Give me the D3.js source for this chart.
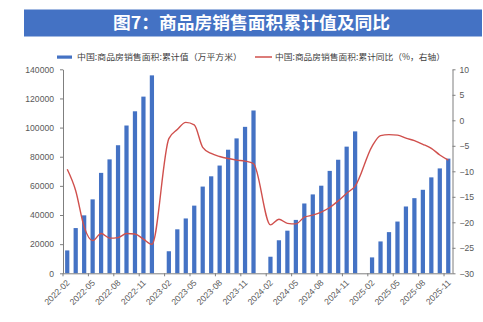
<!DOCTYPE html>
<html><head><meta charset="utf-8">
<script src="https://cdn.jsdelivr.net/npm/d3@7"></script>
<style>body{margin:0;background:#fff}svg{display:block}</style>
</head><body><svg id="c" width="483" height="322"></svg>
<script>
const months = [
 "2022-02","2022-03","2022-04","2022-05","2022-06","2022-07","2022-08","2022-09","2022-10","2022-11","2022-12",
 "2023-01","2023-02","2023-03","2023-04","2023-05","2023-06","2023-07","2023-08","2023-09","2023-10","2023-11","2023-12",
 "2024-01","2024-02","2024-03","2024-04","2024-05","2024-06","2024-07","2024-08","2024-09","2024-10","2024-11","2024-12",
 "2025-01","2025-02","2025-03","2025-04","2025-05","2025-06","2025-07","2025-08","2025-09","2025-10","2025-11"];
const cumArea = [
 15703,31046,39768,50738,68923,78178,87890,101422,111179,121250,135837,
 null,15133,30184,37636,46440,59515,66563,73949,84806,92579,100509,111735,
 null,11369,22668,29252,36642,47916,54139,60117,70284,77930,86924,97385,
 null,10913,21869,28262,35515,45851,51560,57304,65835,71982,78702];
const yoy = [
 -9.6,-13.8,-20.9,-23.6,-22.2,-23.1,-23.0,-22.2,-22.3,-23.3,-24.3,
 null,-3.6,-1.8,-0.4,-0.9,-5.3,-6.5,-7.1,-7.5,-7.8,-8.0,-8.5,
 null,-20.5,-19.4,-20.2,-20.3,-19.0,-18.6,-18.0,-17.1,-15.8,-14.3,-12.9,
 null,-5.1,-3.0,-2.8,-2.9,-3.5,-4.0,-4.7,-5.5,-6.8,-7.8];
const xTickLabels = ["2022-02","2022-05","2022-08","2022-11","2023-02","2023-05","2023-08","2023-11",
 "2024-02","2024-05","2024-08","2024-11","2025-02","2025-05","2025-08","2025-11"];
const leftTicks = [0,20000,40000,60000,80000,100000,120000,140000];
const rightTicks = [-30,-25,-20,-15,-10,-5,0,5,10];
const titleText = "图7：商品房销售面积累计值及同比";
const legendBar = "中国:商品房销售面积:累计值（万平方米）";
const legendLine = "中国:商品房销售面积:累计同比（%，右轴）";

const svg = d3.select("#c");
const L = 63, R = 452.5, T = 69.3, B = 273.3;
const barColor = "#4472C4", lineColor = "#D0504D", axisColor = "#7f7f7f", textColor = "#595959";

// title bar
svg.append("rect").attr("x",24).attr("y",9.5).attr("width",458).attr("height",27).attr("fill","#4472C4");
svg.append("text").attr("x",251.5).attr("y",29).attr("text-anchor","middle")
  .attr("font-family","'Noto Sans CJK SC'").attr("font-size",17).attr("font-weight","bold")
  .attr("fill","#fff").attr("textLength",277).attr("lengthAdjust","spacingAndGlyphs").text(titleText);

// legend
svg.append("rect").attr("x",57).attr("y",55.5).attr("width",15).attr("height",3.2).attr("fill",barColor);
svg.append("text").attr("x",77).attr("y",60.3).attr("font-family","'Noto Sans CJK SC'").attr("font-size",8.5)
  .attr("fill","#404040").attr("textLength",165).attr("lengthAdjust","spacingAndGlyphs").text(legendBar);
svg.append("line").attr("x1",255).attr("x2",272).attr("y1",57).attr("y2",57).attr("stroke",lineColor).attr("stroke-width",1.5);
svg.append("text").attr("x",275).attr("y",60.3).attr("font-family","'Noto Sans CJK SC'").attr("font-size",8.5)
  .attr("fill","#404040").attr("textLength",170).attr("lengthAdjust","spacingAndGlyphs").text(legendLine);

const x = d3.scaleBand().domain(months).range([L,R]).paddingInner(0.5).paddingOuter(0.25);
const yL = d3.scaleLinear().domain([0,140000]).range([B,T]);
const yR = d3.scaleLinear().domain([-30,10]).range([B,T]);

// bars
svg.append("g").selectAll("rect").data(months.map((m,i)=>({m,v:cumArea[i]})).filter(d=>d.v!=null))
  .join("rect").attr("x",d=>x(d.m)).attr("width",x.bandwidth())
  .attr("y",d=>yL(d.v)).attr("height",d=>B-yL(d.v)).attr("fill",barColor);

// line
const lineData = months.map((m,i)=>({m,v:yoy[i]})).filter(d=>d.v!=null);
svg.append("path").datum(lineData)
  .attr("d", d3.line().x(d=>x(d.m)+x.bandwidth()/2).y(d=>yR(d.v)).curve(d3.curveMonotoneX))
  .attr("fill","none").attr("stroke",lineColor).attr("stroke-width",1.4);

function styleAxis(g){
  g.selectAll("path,line").attr("stroke",axisColor);
  g.selectAll("text").attr("fill",textColor).attr("font-family","'Liberation Sans', Arial, sans-serif").attr("font-size",8.6);
}
// left axis
svg.append("g").attr("transform",`translate(${L},0)`)
  .call(d3.axisLeft(yL).tickValues(leftTicks).tickFormat(d3.format("d")).tickSize(3).tickSizeOuter(0).tickPadding(6))
  .call(styleAxis);
// right axis
svg.append("g").attr("transform",`translate(${R},0)`)
  .call(d3.axisRight(yR).tickValues(rightTicks).tickFormat(d=>d<0?"\u2212"+Math.abs(d):d).tickSize(3).tickSizeOuter(0).tickPadding(4))
  .call(styleAxis);
// bottom axis
const gx = svg.append("g").attr("transform",`translate(0,${B})`)
  .call(d3.axisBottom(x).tickValues(xTickLabels).tickSize(0).tickSizeOuter(0).tickPadding(0))
  .call(styleAxis);
gx.select(".domain").attr("d",`M${L},0.5H${R}`);
gx.selectAll(".tick text").attr("text-anchor","end").attr("dy",0)
  .attr("transform","translate(3,10) rotate(-45)");
// boundary tick marks every 3 categories
const step = x.step();
const start = x(months[0]) - step * x.paddingOuter();
gx.selectAll("line.bt").data(d3.range(0, months.length+1, 3)).join("line").attr("class","bt")
  .attr("x1",i=>start + i*step).attr("x2",i=>start + i*step)
  .attr("y1",0).attr("y2",3).attr("stroke",axisColor);
</script></body></html>
